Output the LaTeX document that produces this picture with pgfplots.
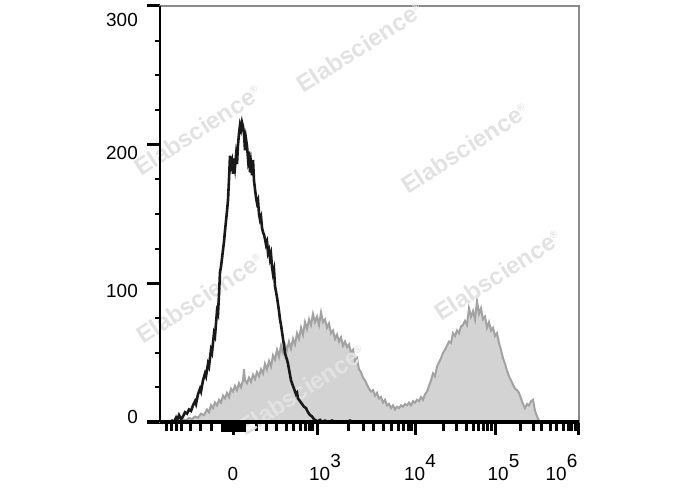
\documentclass[border=0pt]{standalone}
\usepackage{pgfplots}
\pgfplotsset{compat=1.18}
\usepackage{fontspec}
\setmainfont{Liberation Sans}
\definecolor{fillgray}{HTML}{D3D3D3}
\definecolor{edgegray}{HTML}{A2A2A2}
\definecolor{wm}{HTML}{E2E2E2}
\definecolor{framegray}{HTML}{8A8A8A}
\begin{document}
\begin{tikzpicture}
\useasboundingbox (0,0) rectangle (688bp,490bp);
\begin{axis}[
  at={(160bp,68bp)}, anchor=south west,
  scale only axis, width=419bp, height=416bp,
  xmin=160, xmax=579, ymin=0, ymax=300,
  clip=false,
  axis line style={framegray, line width=1.2bp},
  xtick pos=bottom, ytick pos=left, tick align=outside,
  xtick={233,317,415,495,578},
  xticklabels={0, \hspace*{16bp}10\raisebox{13bp}{3}, \hspace*{10bp}10\raisebox{13bp}{4}, \hspace*{17bp}10\raisebox{13bp}{5}, 10\raisebox{13bp}{6}\hspace*{33bp}},
  extra x ticks={166.7,171.7,176.7,190,200,211.7,256.7,266.7,276.7,293.3,300,305,309.3,312.7,348.3,363.3,373.3,391.7,398.3,403.3,408.3,411.7,443.3,456.7,466.7,478.3,483.3,487.3,491.7,520,533.3,541.7,556.7,563.3,568.3,571.7,575,
    181.7,286.7,383.3,473.3,550},
  extra x tick labels={},
  extra x tick style={major tick length=9bp, tick style={line width=2.2bp, black}},
  ytick={0,100,200,300},
  yticklabels={\raisebox{13.5bp}{0}, 100, 200, \raisebox{-6bp}{300}},
  minor ytick={25,50,75,125,150,175,225,250,275},
  major tick length=12.5bp, minor tick length=5.5bp,
  major tick style={line width=3bp, black},
  minor tick style={line width=1.8bp, black},
  tick label style={font=\fontsize{19}{20}\selectfont, text=black},
  xticklabel style={anchor=base, inner sep=0pt, yshift=-45.5bp},
  yticklabel style={anchor=base east, inner sep=0pt, xshift=-9.5bp, yshift=-14.6bp},
]
% stained sample (grey filled histogram)
\addplot[draw=edgegray, line width=2bp, fill=fillgray] coordinates {
(177,0)(180,1)(183,2)(186,1)(189,3)(192,2)(195,4)(198,3)(201,6)(204,5)(207,9)(209,7)(211,12)(213,10)(215,14)(217,12)(219,16)(221,14)(223,19)(225,17)(227,21)(229,18)(231,24)(233,22)(235,26)(237,23)(239,28)(241,25)(243,30)(244,38)(245,30)(247,28)(249,32)(251,29)(253,34)(255,31)(257,36)(259,33)(261,38)(263,35)(265,42)(267,38)(269,44)(271,40)(273,48)(275,45)(277,52)(279,47)(281,55)(283,50)(285,56)(287,52)(289,58)(291,53)(293,60)(295,56)(297,64)(299,60)(301,68)(303,63)(305,72)(307,67)(309,74)(311,70)(313,78)(315,72)(317,76)(319,70)(321,79)(323,72)(325,74)(327,68)(329,71)(331,64)(333,66)(335,60)(337,63)(339,58)(341,61)(343,55)(345,58)(347,54)(349,56)(351,50)(353,52)(355,44)(357,46)(359,38)(361,36)(363,32)(365,30)(367,27)(369,24)(371,22)(373,23)(375,19)(377,21)(379,17)(381,18)(383,14)(385,16)(387,12)(389,13)(391,10)(393,12)(395,9)(397,11)(399,10)(401,12)(403,11)(405,13)(407,12)(409,14)(411,12)(413,15)(415,14)(417,16)(419,15)(421,18)(423,16)(425,20)(427,22)(429,26)(431,30)(433,35)(435,33)(437,40)(439,43)(441,46)(443,50)(445,52)(447,55)(449,58)(451,57)(453,64)(455,62)(457,66)(459,64)(461,69)(463,70)(465,73)(467,70)(469,82)(471,76)(473,80)(475,74)(477,87)(479,78)(481,82)(483,74)(485,76)(487,68)(489,72)(491,66)(493,68)(495,62)(497,64)(499,57)(501,52)(503,46)(505,42)(507,37)(509,33)(511,30)(513,27)(515,24)(517,23)(519,21)(521,17)(523,13)(525,10)(527,13)(529,12)(531,15)(533,16)(535,8)(537,4)(539,1)(541,0)
} \closedcycle;
% watermarks
\begin{scope}[every node/.style={font=\bfseries\fontsize{24}{24}\selectfont, text=wm, rotate=33}]
\node at (axis cs:198,210.6) {Elabscience\textsuperscript{\fontsize{10}{10}\selectfont ®}};
\node at (axis cs:360,270.4) {Elabscience\textsuperscript{\fontsize{10}{10}\selectfont ®}};
\node at (axis cs:465,197.6) {Elabscience\textsuperscript{\fontsize{10}{10}\selectfont ®}};
\node at (axis cs:498,106) {Elabscience\textsuperscript{\fontsize{10}{10}\selectfont ®}};
\node at (axis cs:200,89.4) {Elabscience\textsuperscript{\fontsize{10}{10}\selectfont ®}};
\node at (axis cs:302,23.1) {Elabscience\textsuperscript{\fontsize{10}{10}\selectfont ®}};
\end{scope}
% control (black line)
\addplot[black!90, line width=2.6bp] coordinates {
(160,0)(163,0)(166,0.5)(169,0)(172,1)(174,0)(176,3)(177,1)(179,5)(181,2)(183,4)(185,7)(187,6)(189,9)(191,8)(193,12)(195,15)(196,13)(198,20)(200,24)(201,22)(203,30)(205,35)(206,33)(208,42)(209,40)(211,52)(212,50)(214,64)(215,62)(217,80)(218,78)(219,92)(220,108)(221,112)(222,118)(223,124)(224,130)(225,138)(226,145)(227,152)(228,160)(229,175)(230,192)(231,185)(232,188)(233,179)(234,190)(235,184)(236,192)(237,186)(238,200)(239,208)(240,214)(241,211)(242,216)(243,213)(244,208)(245,196)(246,204)(247,199)(248,190)(249,195)(250,180)(251,186)(252,178)(253,189)(254,174)(255,168)(256,162)(257,158)(258,160)(259,150)(260,146)(261,148)(262,140)(263,137)(264,135)(265,132)(266,128)(267,130)(268,122)(269,124)(270,118)(271,121)(272,112)(273,107)(274,110)(275,98)(276,94)(277,90)(278,85)(279,80)(280,74)(281,70)(282,65)(283,60)(284,55)(285,50)(286,47)(287,45)(288,42)(289,38)(290,34)(291,30)(292,28)(293,26)(294,24)(295,22)(296,20)(297,21)(298,17)(300,15)(302,13)(304,11)(306,10)(308,7)(310,5)(312,4)(314,2)(316,1)(318,0.5)(320,1.5)(322,0)(325,1)(328,0)(332,1)(336,0)(340,0.5)(345,0)(350,1)(354,0)(400,0)(450,0)(500,0)(579,0)
};
\draw[black, line width=2bp] (rel axis cs:0,0) -- (rel axis cs:0,1);
\draw[black, line width=3bp] (rel axis cs:0,0) -- (rel axis cs:1,0);
% dense tick block around zero
\fill[black] ([yshift=-1bp]axis cs:221,0) rectangle ([yshift=-10bp]axis cs:245.5,0);
\end{axis}
\end{tikzpicture}
\end{document}
